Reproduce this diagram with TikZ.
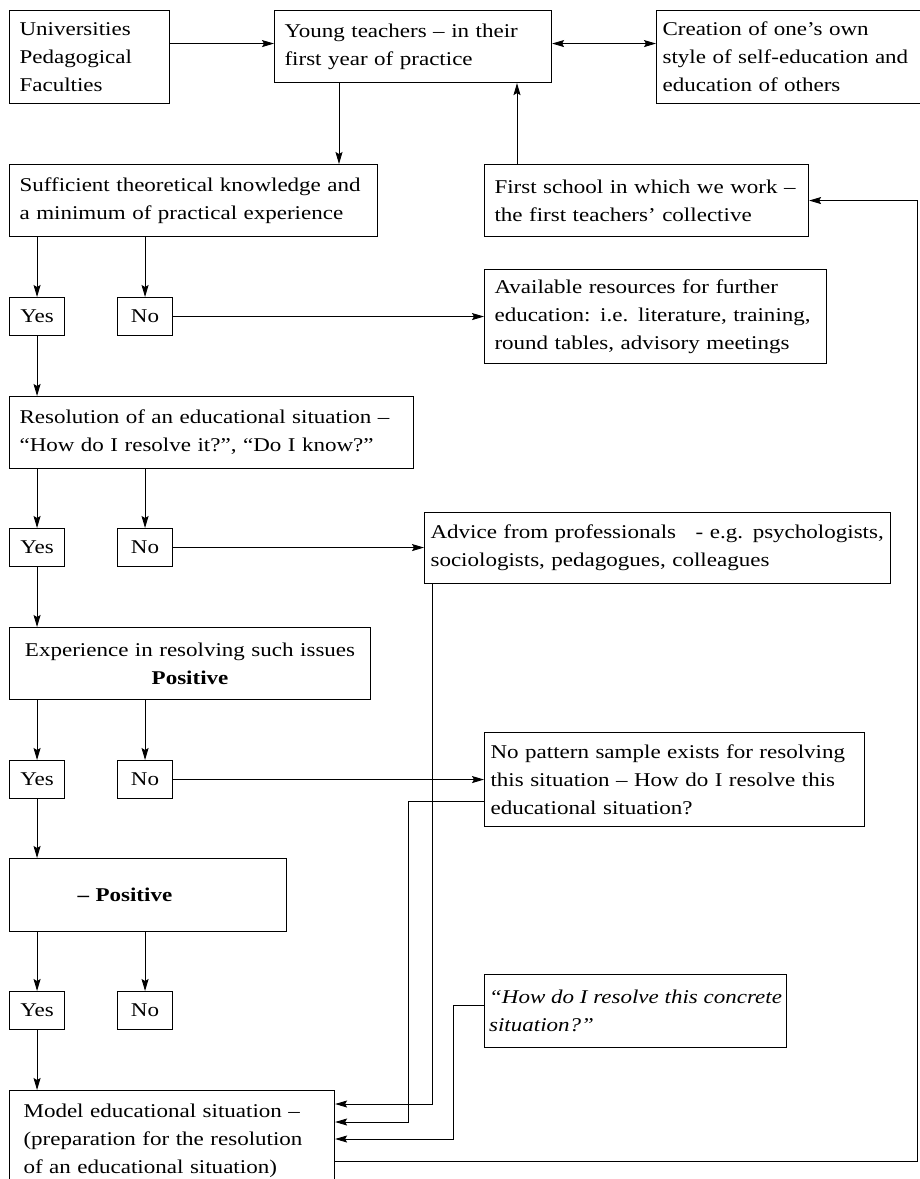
\documentclass[tikz,border=0pt]{standalone}
\usepackage{fontspec}
\setmainfont{Liberation Serif}[FakeStretch=1.18]
\usetikzlibrary{arrows.meta}
\hyphenpenalty=10000
\exhyphenpenalty=10000

\tikzset{
  blk/.style={draw, line width=1.1pt, anchor=north west, align=left,
    inner xsep=10pt, inner ysep=2pt, font=\fontsize{19.5}{28}\selectfont},
  yn/.style={blk, align=center, minimum width=55pt, minimum height=38pt, inner sep=0pt},
  arr/.style={-{Stealth[length=12pt,width=7pt,inset=2pt]}, line width=0.9pt},
  dbl/.style={{Stealth[length=12pt,width=7pt,inset=2pt]}-{Stealth[length=12pt,width=7pt,inset=2pt]}, line width=0.9pt}
}

\begin{document}
\begin{tikzpicture}[x=1pt, y=-1pt]
    \useasboundingbox (0,0) rectangle (920,1179);
    % top row
    \node[blk, text width=140pt, minimum height=93pt] (univ) at (9,10) {Universities\\Pedagogical\\Faculties};
    \node[blk, text width=257pt, minimum height=72pt] (young) at (274,10) {Young teachers – in their\\first year of practice};
    \node[blk, text width=252pt, inner xsep=6pt, minimum height=93pt] (creation) at (656,10) {Creation of one’s own\\style of self-education and\\education of others};
    \node[blk, text width=348pt, minimum height=72pt] (suff) at (9,164) {Sufficient theoretical knowledge and\\a minimum of practical experience};
    \node[blk, text width=304pt, minimum height=72pt] (first) at (484,164) {First school in which we work –\\the first teachers’ collective};
    % decisions
    \node[yn] (yes1) at (9,297) {Yes};
    \node[yn] (no1) at (117,297) {No};
    \node[blk, text width=322pt, minimum height=94pt] (avail) at (484,269) {Available resources for further\\education: i.e. literature, training,\\round tables, advisory meetings};
    \node[blk, text width=384pt, minimum height=72pt] (resol) at (9,396) {Resolution of an educational situation –\\“How do I resolve it?”, “Do I know?”};
    \node[yn] (yes2) at (9,528) {Yes};
    \node[yn] (no2) at (117,528) {No};
    \node[blk, text width=454pt, inner xsep=6pt, minimum height=71pt] (advice) at (424,512) {Advice from professionals \ \ - e.g. psychologists,\\sociologists, pedagogues, colleagues};
    \node[blk, text width=341pt, align=center, minimum height=72pt] (exper) at (9,627) {Experience in resolving such issues\\\textbf{Positive}};
    \node[yn] (yes3) at (9,760) {Yes};
    \node[yn] (no3) at (117,760) {No};
    \node[blk, text width=368pt, inner xsep=6pt, minimum height=94pt] (nopat) at (484,732) {No pattern sample exists for resolving\\this situation – How do I resolve this\\educational situation?};
    \node[blk, text width=257pt, minimum height=73pt] (pos) at (9,858) {\hspace*{58pt}\textbf{– Positive}};
    \node[yn] (yes4) at (9,991) {Yes};
    \node[yn] (no4) at (117,991) {No};
    \node[blk, minimum width=302pt, minimum height=73pt, inner xsep=4pt, font=\fontsize{19.5}{28}\selectfont\itshape] (howdo) at (484,974) {“How do I resolve this concrete\\situation?”};
    \node[blk, text width=297pt, inner xsep=14pt, inner ysep=13pt, text depth=75pt] (model) at (9,1090) {Model educational situation –\\(preparation for the resolution\\of an educational situation)};

    % connectors
    \coordinate (yin) at ([yshift=3pt]young.west);
    \draw[arr] (univ.east |- yin) -- (yin);
    \draw[dbl] ([yshift=3pt]young.east) -- (creation.west |- yin);
    \coordinate (ydown) at ([xshift=65pt]young.south west);
    \draw[arr] (ydown) -- (ydown |- suff.north);
    \coordinate (fup) at ([xshift=33pt]first.north west);
    \draw[arr] (fup) -- (fup |- young.south);

    \foreach \up/\y/\n in {suff/yes1/no1, resol/yes2/no2, exper/yes3/no3, pos/yes4/no4}{
        \draw[arr] (\y.north |- \up.south) -- (\y.north);
        \draw[arr] (\n.north |- \up.south) -- (\n.north);
    }
    \draw[arr] (yes1.south) -- (yes1.south |- resol.north);
    \draw[arr] (yes2.south) -- (yes2.south |- exper.north);
    \draw[arr] (yes3.south) -- (yes3.south |- pos.north);
    \draw[arr] (yes4.south) -- (yes4.south |- model.north);

    \draw[arr] (no1.east) -- (no1.east -| avail.west);
    \draw[arr] (no2.east) -- (no2.east -| advice.west);
    \draw[arr] (no3.east) -- (no3.east -| nopat.west);

    % back into the model situation
    \draw[arr] ([xshift=8pt]advice.south west) |- ([yshift=-14pt]model.north east);
    \draw[arr] ([yshift=-22pt]nopat.west) -- ++(-76pt,0) |- ([yshift=-32pt]model.north east);
    \draw[arr] ([yshift=6pt]howdo.west) -- ++(-31pt,0) |- ([yshift=-49pt]model.north east);
    \coordinate (rim) at (917,0);
    \draw[arr] ([yshift=-71pt]model.north east) -| (rim |- first.east) -- (first.east);
\end{tikzpicture}
\end{document}
